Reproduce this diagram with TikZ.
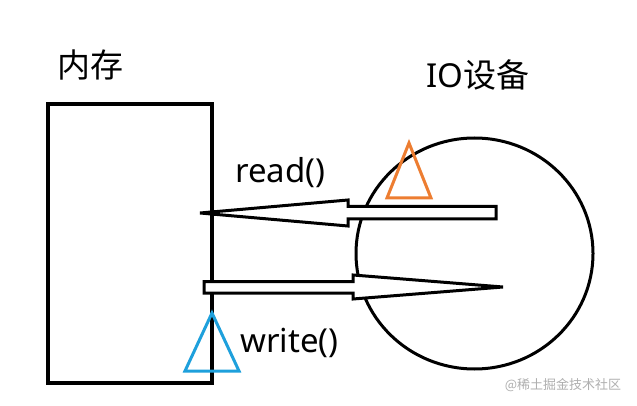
\documentclass[tikz,border=0pt]{standalone}
\usepackage{fontspec}
\setmainfont{Noto Sans}
\newfontfamily\cjk{Noto Sans CJK SC}
\definecolor{myorange}{RGB}{237,125,49}
\definecolor{myblue}{RGB}{30,160,220}
\definecolor{wmgray}{RGB}{175,175,175}
\begin{document}
\begin{tikzpicture}[x=1pt,y=-1pt,
  shapeline/.style={draw=black,line width=3.5pt},
  arrowshape/.style={draw=black,line width=3pt,fill=white},
  tri/.style={line width=3pt},
  lbl/.style={inner sep=0pt,font=\fontsize{33}{38}\selectfont},
  cjklbl/.style={inner sep=0pt,font=\cjk\fontsize{33}{38}\selectfont}]
\useasboundingbox (0,0) rectangle (637,406);
\fill[white] (0,0) rectangle (637,406);
% memory box
\draw[shapeline] (48,104) rectangle (212,383);
% IO device circle
\draw[draw=black,line width=3pt] (474.5,253.5) ellipse [x radius=118.5, y radius=115.5];
% read arrow (pointing left)
\draw[arrowshape] (200,213) -- (348,200) -- (348,206.5) -- (496,206.5) -- (496,219) -- (348,219) -- (348,226) -- cycle;
% write arrow (pointing right)
\draw[arrowshape] (503,287) -- (353,275) -- (353,281.5) -- (204,281.5) -- (204,293) -- (353,293) -- (353,299) -- cycle;
% triangles
\draw[tri,draw=myorange] (409,143) -- (431,198) -- (387,198) -- cycle;
\draw[tri,draw=myblue] (212,313) -- (239,371) -- (185,371) -- cycle;
% labels
\node[cjklbl] (mem) at (90,65) {内存};
\node[lbl] (io) at (478,75) {IO\cjk 设备};
\node[lbl,anchor=base west] (rd) at (235,183) {read()};
\node[lbl,anchor=base west] (wr) at (240,352) {write()};
\node[inner sep=0pt,text=wmgray,font=\cjk\fontsize{13}{15}\selectfont] (wm) at (563,385) {@稀土掘金技术社区};
\end{tikzpicture}
\end{document}
